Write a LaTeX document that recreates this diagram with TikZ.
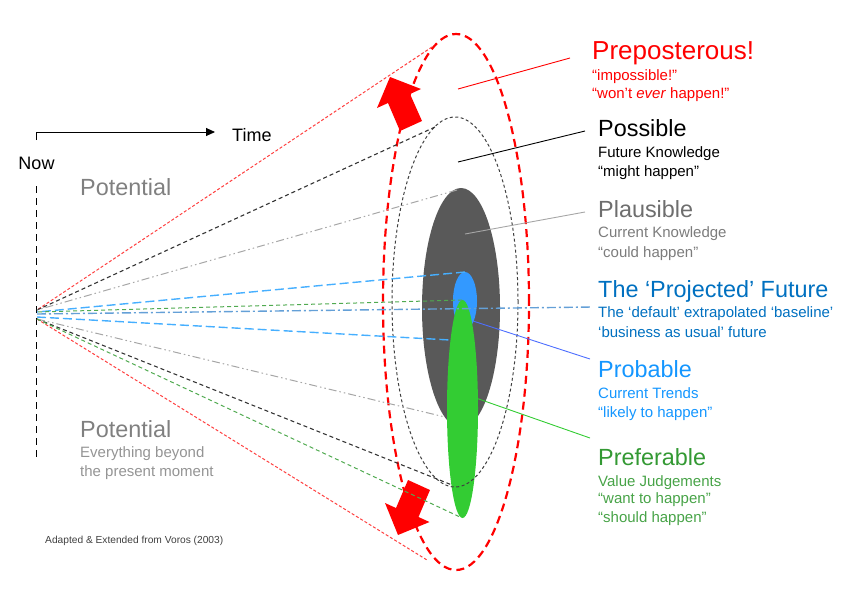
\documentclass[tikz,border=0pt]{standalone}
\usepackage{fontspec}
\setmainfont{Liberation Sans}
\usetikzlibrary{arrows.meta}
\definecolor{plausc}{RGB}{110,110,110}
\definecolor{projc}{RGB}{0,112,192}
\definecolor{probc}{RGB}{20,150,255}
\definecolor{prefc}{RGB}{51,153,51}
\definecolor{ellgray}{RGB}{89,89,89}
\definecolor{ellblue}{RGB}{51,153,255}
\definecolor{ellgreen}{RGB}{51,204,51}
\definecolor{raygray}{RGB}{166,166,166}
\definecolor{rayblue}{RGB}{70,175,255}
\definecolor{raygreen}{RGB}{80,170,80}
\definecolor{projline}{RGB}{100,160,215}
\definecolor{probline}{RGB}{77,110,255}
\begin{document}
\begin{tikzpicture}[x=1pt, y=-1pt, line join=round,
	head/.style={anchor=base west, inner sep=0pt, font=\fontsize{23.4}{28}\selectfont},
	sub/.style={anchor=base west, inner sep=0pt, font=\fontsize{15}{18}\selectfont},
	redray/.style={red!75, line width=1pt, dash pattern=on 3pt off 2pt},
	blackray/.style={black!80, line width=1.1pt, dash pattern=on 4pt off 3pt},
	grayray/.style={raygray, line width=1pt, dash pattern=on 8pt off 3pt on 1.5pt off 3pt on 1.5pt off 3pt},
	blueray/.style={rayblue, line width=1.4pt, dash pattern=on 9pt off 4pt},
	greenray/.style={raygreen, line width=1pt, dash pattern=on 4pt off 3pt},
	lbl/.style={line width=0.9pt}]
	\useasboundingbox (0,0) rectangle (850,600);
	% origine et axe du temps
	\coordinate (nowa) at (37,310);
	\coordinate (nowb) at (37,319);
	\coordinate (nowc) at (37,314);
	\coordinate (nowtop) at (36.5,186);
	\coordinate (nowbot) at (36.5,457);
	\coordinate (tstart) at (36.5,140);
	\coordinate (tend) at (215,132);
	\draw[-{Triangle[length=9pt,width=8pt]}, line width=0.9pt] (tstart) -- (tstart|-tend) -- (tend);
	\draw[line width=1pt, dash pattern=on 7pt off 5pt] (nowtop) -- (nowbot);
	\node[inner sep=0pt, anchor=base, font=\fontsize{18}{22}\selectfont] (now) at (36.5,169) {Now};
	\node[inner sep=0pt, anchor=base west, font=\fontsize{18}{22}\selectfont] (time) at (232,141) {Time};
	% cones (ellipses)
	\fill[ellgray] (461,308) ellipse [x radius=39pt, y radius=120pt];
	\fill[ellblue] (465,301) ellipse [x radius=12pt, y radius=29pt];
	\fill[ellgreen] (462.5,409) ellipse [x radius=15.5pt, y radius=109pt];
	\draw[black!75, line width=1pt, dash pattern=on 3pt off 2.5pt] (455,302) ellipse [x radius=63pt, y radius=185pt];
	\draw[red, line width=2.2pt, dash pattern=on 8pt off 5pt] (456,302) ellipse [x radius=73pt, y radius=268pt];
	% fleches rouges
	\fill[red] (422,121)--(410,94)--(421,89)--(390,77)--(377,108)--(388,103)--(400,131)--cycle;
	\fill[red] (430,490)--(418.5,517)--(429.5,522)--(398,535)--(385,503)--(396,508)--(408,480)--cycle;
	% rayons
	\coordinate (redup) at (432,47);    \coordinate (redlo) at (427,560);
	\coordinate (blackup) at (435,127); \coordinate (blacklo) at (452,485);
	\coordinate (grayup) at (457,190);  \coordinate (graylo) at (445,417);
	\coordinate (blueup) at (465,272);  \coordinate (bluelo) at (450,340);
	\coordinate (greenup) at (462,300); \coordinate (greenlo) at (460,517);
	\coordinate (projend) at (592,307);
	\draw[redray] (redup) -- (nowa) (nowb) -- (redlo);
	\draw[blackray] (blackup) -- (nowa) (nowb) -- (blacklo);
	\draw[grayray] (grayup) -- (nowa) (nowb) -- (graylo);
	\draw[blueray] (blueup) -- (37,312) (37,317) -- (bluelo);
	\draw[greenray] (greenup) -- (37,312) (nowb) -- (greenlo);
	\draw[projline, line width=1.4pt, dash pattern=on 9pt off 3pt on 2pt off 3pt] (nowc) -- (projend);
	% traits vers les textes
	\coordinate (prepin) at (458,89);   \coordinate (prepout) at (570,58);
	\coordinate (possin) at (458,162);  \coordinate (possout) at (585,131);
	\coordinate (plausin) at (465,234); \coordinate (plausout) at (585,212);
	\coordinate (probin) at (473,321);  \coordinate (probout) at (590,359);
	\coordinate (prefin) at (473,397);  \coordinate (prefout) at (590,438);
	\draw[lbl, red] (prepin) -- (prepout);
	\draw[lbl, black] (possin) -- (possout);
	\draw[lbl, raygray] (plausin) -- (plausout);
	\draw[lbl, probline] (probin) -- (probout);
	\draw[lbl, ellgreen] (prefin) -- (prefout);
	% textes
	\node[head, red, font=\fontsize{26}{30}\selectfont] (prep) at (592,59) {Preposterous!};
	\node[sub, red] (prepa) at (592,80) {“impossible!”};
	\node[sub, red] (prepb) at (592,98) {“won’t \textit{ever} happen!”};
	\node[head] (poss) at (598,136) {Possible};
	\node[sub] (possa) at (598,157) {Future Knowledge};
	\node[sub] (possb) at (598,176) {“might happen”};
	\node[head, plausc] (plaus) at (598,217) {Plausible};
	\node[sub, plausc!90] (plausa) at (598,237) {Current Knowledge};
	\node[sub, plausc!90] (plausb) at (598,257) {“could happen”};
	\node[head, projc] (proj) at (598,297) {The ‘Projected’ Future};
	\node[sub, projc] (proja) at (598,317) {The ‘default’ extrapolated ‘baseline’};
	\node[sub, projc] (projb) at (598,337) {‘business as usual’ future};
	\node[head, probc] (prob) at (598,377) {Probable};
	\node[sub, probc] (proba) at (598,398) {Current Trends};
	\node[sub, probc] (probb) at (598,417) {“likely to happen”};
	\node[head, prefc] (pref) at (598,465) {Preferable};
	\node[sub, prefc!90] (prefa) at (598,486) {Value Judgements};
	\node[sub, prefc!90] (prefb) at (598,503) {“want to happen”};
	\node[sub, prefc!90] (prefd) at (598,522) {“should happen”};
	\node[head, black!50] (pot) at (80,195) {Potential};
	\node[head, black!50] (potlow) at (80,437) {Potential};
	\node[sub, black!42] (potlowa) at (80,457) {Everything beyond};
	\node[sub, black!42] (potlowb) at (80,476) {the present moment};
	\node[inner sep=0pt, anchor=base west, black!75, font=\fontsize{10.2}{12}\selectfont] (src) at (45,543) {Adapted \& Extended from Voros (2003)};
\end{tikzpicture}
\end{document}
